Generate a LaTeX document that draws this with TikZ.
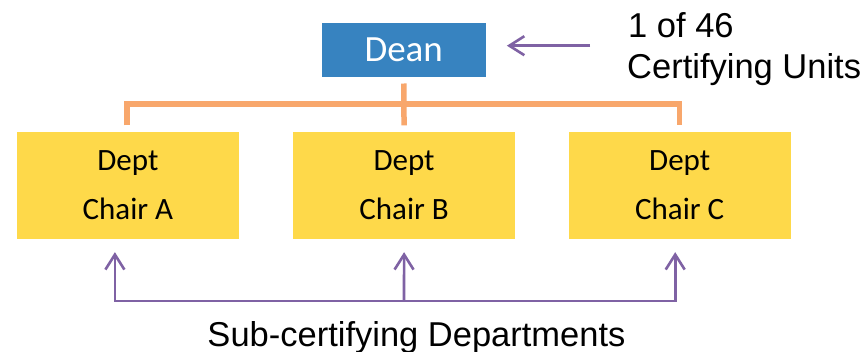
\documentclass[tikz,border=0pt]{standalone}
\usepackage{fontspec}
\setmainfont{Liberation Sans}
\newfontfamily\calib{Carlito}
\usetikzlibrary{arrows.meta}
\definecolor{deanblue}{HTML}{3783C0}
\definecolor{deptyellow}{HTML}{FED94A}
\definecolor{busorange}{HTML}{F8A76C}
\definecolor{notepurple}{HTML}{7F62A4}
\begin{document}
\begin{tikzpicture}[x=1pt,y=-1pt,
  deanbox/.style={rectangle, fill=deanblue, minimum width=164pt, minimum height=54.6pt, inner sep=0pt,
     text=white, font=\calib\fontsize{37}{44}\selectfont},
  deptbox/.style={rectangle, fill=deptyellow, minimum width=222.3pt, minimum height=107.3pt, inner sep=0pt,
     align=center, font=\calib\fontsize{31}{49}\selectfont},
  orgline/.style={draw=busorange, line width=5.5pt},
  purline/.style={draw=notepurple, line width=2.6pt, -{Straight Barb[length=15pt,width=19pt,line width=2.6pt]}},
  notetext/.style={font=\fontsize{34.5}{40}\selectfont, inner sep=0pt}
]
\useasboundingbox (0,0) rectangle (866,351);
\fill[white] (0,0) rectangle (866,351);

\node[deanbox] (dean) at (403.7,50) {Dean};
\node[deptbox] (deptA) at (127.9,185.3) {Dept\\Chair A};
\node[deptbox] (deptB) at (404.1,185.3) {Dept\\Chair B};
\node[deptbox] (deptC) at (679.7,185.3) {Dept\\Chair C};

\coordinate (bus) at (404,104);
\coordinate (pbus) at (404,301);
\coordinate (arrtail) at (590,45.7);

% orange connectors
\draw[orgline, shorten <=6pt, shorten >=6pt] ([xshift=-1pt]deptA.north) |- (bus) -| (deptC.north);
\draw[orgline, shorten <=6pt, shorten >=6pt] (dean.south) -- (deptB.north);

% purple arrows
\draw[purline, shorten >=13pt] (pbus) -| ([xshift=-13pt]deptA.south);
\draw[purline, shorten >=13pt] (pbus) -| ([xshift=-4.5pt]deptC.south);
\draw[purline, shorten >=13pt] (pbus) -- (deptB.south);
\draw[purline, shorten >=21pt] (arrtail) -- (dean.east |- arrtail);

% texts
\node[notetext, anchor=base west] (note1) at (628,37) {1 of 46};
\node[notetext, anchor=base west] (note2) at (627,78) {Certifying Units};
\node[notetext, anchor=base] (sub) at (416.5,346) {Sub-certifying Departments};
\end{tikzpicture}
\end{document}
